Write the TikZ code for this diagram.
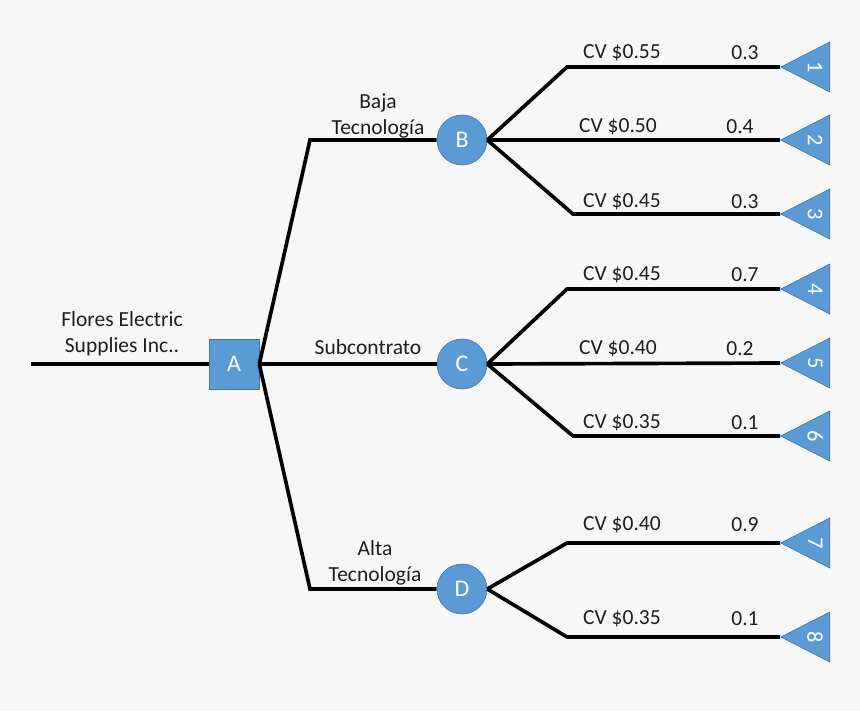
\documentclass[tikz,border=0pt]{standalone}
\usepackage{fontspec}
\setmainfont{Carlito}
\usetikzlibrary{shapes.geometric}
\definecolor{dtblue}{RGB}{91,155,213}
\definecolor{dtedge}{RGB}{65,113,156}
\definecolor{dtbg}{RGB}{247,247,247}
\definecolor{dttext}{RGB}{30,30,30}

\begin{document}
\begin{tikzpicture}[x=0.025cm, y=-0.025cm,
  every node/.style={font=\fontsize{15.3}{18.5}\selectfont, text=dttext},
  decision/.style={rectangle, draw=dtedge, fill=dtblue, minimum size=1.25cm, inner sep=0pt, text=white, font=\fontsize{17}{20}\selectfont},
  chance/.style={circle, draw=dtedge, fill=dtblue, minimum size=1.25cm, inner sep=0pt, text=white, font=\fontsize{17}{20}\selectfont},
  payoff/.style={isosceles triangle, isosceles triangle stretches, shape border rotate=180, draw=dtedge, fill=dtblue, minimum width=1.25cm, minimum height=1.225cm, inner sep=0pt, anchor=apex, text=white, font=\fontsize{16}{19}\selectfont},
  branch/.style={line width=2.6pt, draw=black},
  lbl/.style={align=center, inner sep=0pt}
]
\fill[dtbg] (0,0) rectangle (860,711);
\useasboundingbox (0,0) rectangle (860,711);
\coordinate (start) at (31,364);
\node[decision] (A) at (234,364) {A};
\node[chance] (B) at (462,140) {B};
\node[chance] (C) at (462,364) {C};
\node[chance] (D) at (462,589) {D};
\node[payoff] (p1) at (780,67) {\rotatebox{-90}{1}};
\node[payoff] (p2) at (780,140) {\rotatebox{-90}{2}};
\node[payoff] (p3) at (780,214) {\rotatebox{-90}{3}};
\node[payoff] (p4) at (780,289) {\rotatebox{-90}{4}};
\node[payoff] (p5) at (780,363) {\rotatebox{-90}{5}};
\node[payoff] (p6) at (780,436) {\rotatebox{-90}{6}};
\node[payoff] (p7) at (780,543) {\rotatebox{-90}{7}};
\node[payoff] (p8) at (780,637) {\rotatebox{-90}{8}};
\draw[branch] (start) -- (A);
\draw[branch] (A.east) -- (310,140) -- (B);
\draw[branch] (A.east) -- (C);
\draw[branch] (A.east) -- (310,589) -- (D);
\draw[branch] (B.east) -- (567,67) -- (p1.apex);
\draw[branch] (B.east) -- (p2.apex);
\draw[branch] (B.east) -- (573,214) -- (p3.apex);
\draw[branch] (C.east) -- (567,289) -- (p4.apex);
\draw[branch] (C.east) -- (p5.apex);
\draw[branch] (C.east) -- (573,436) -- (p6.apex);
\draw[branch] (D.east) -- (567,543) -- (p7.apex);
\draw[branch] (D.east) -- (567,637) -- (p8.apex);
% Labels
\node[lbl] (flores) at (122,334) {Flores Electric\\Supplies Inc..};
\node[lbl] (baja) at (378,116) {Baja\\Tecnología};
\node[lbl] (sub) at (368,347) {Subcontrato};
\node[lbl] (alta) at (375,563) {Alta\\Tecnología};
\node (cv1) at (622,53) {CV \$0.55};
\node (pr1) at (745,53) {0.3};
\node (cv2) at (618,127) {CV \$0.50};
\node (pr2) at (740,127) {0.4};
\node (cv3) at (622,202) {CV \$0.45};
\node (pr3) at (745,202) {0.3};
\node (cv4) at (622,275) {CV \$0.45};
\node (pr4) at (745,275) {0.7};
\node (cv5) at (618,349) {CV \$0.40};
\node (pr5) at (740,349) {0.2};
\node (cv6) at (622,423) {CV \$0.35};
\node (pr6) at (745,423) {0.1};
\node (cv7) at (622,525) {CV \$0.40};
\node (pr7) at (745,525) {0.9};
\node (cv8) at (622,619) {CV \$0.35};
\node (pr8) at (745,619) {0.1};
\end{tikzpicture}
\end{document}
